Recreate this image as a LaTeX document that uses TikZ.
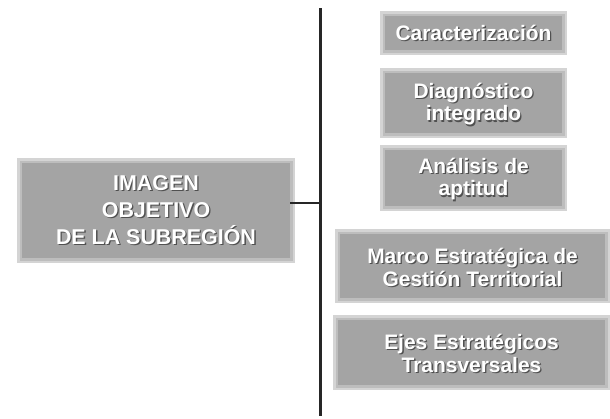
\documentclass[tikz,border=0pt]{standalone}
\usepackage{fontspec}
\setmainfont{Liberation Sans}
\usetikzlibrary{calc}
\definecolor{boxfill}{HTML}{A4A4A4}
\definecolor{boxglow}{HTML}{D4D4D4}
\definecolor{boxglowin}{HTML}{BDBDBD}
\definecolor{txtshadow}{HTML}{505050}
\newcommand{\shtext}[5]{% name, position, fontsize, baselineskip, text
  \node[txt, text=txtshadow, font=\bfseries\fontsize{#3}{#4}\selectfont] at ([xshift=1.3bp,yshift=-1.3bp]#2) {#5};
  \node[txt, text=white, font=\bfseries\fontsize{#3}{#4}\selectfont] (#1) at (#2) {#5};
}
\newcommand{\gbox}[4]{% x1,y1,x2,y2
  \fill[boxglow] ($(#1,#2)+(-5,-5)$) rectangle ($(#3,#4)+(5,5)$);
  \fill[boxglowin] ($(#1,#2)+(-2.5,-2.5)$) rectangle ($(#3,#4)+(2.5,2.5)$);
  \fill[boxfill] (#1,#2) rectangle (#3,#4);
}
\begin{document}
\begin{tikzpicture}[x=1bp,y=-1bp,
  txt/.style={align=center, inner sep=0pt},
  conn/.style={draw=black!85, line width=3bp}]
\useasboundingbox (0,0) rectangle (610,418);
\fill[white] (0,0) rectangle (610,418);
% left box
\gbox{22}{163}{290}{258}
\coordinate (lb) at (156,210);
\shtext{lt}{lb}{21.5}{27}{IMAGEN\\OBJETIVO\\DE LA SUBREGIÓN}
% right boxes
\gbox{385}{16}{562}{50}
\coordinate (c1) at (473.5,33);
\shtext{t1}{c1}{21}{23}{Caracterización}

\gbox{385}{73}{562}{133}
\coordinate (c2) at (473.5,104);
\shtext{t2}{c2}{21}{23}{Diagnóstico\\integrado}

\gbox{385}{150}{562}{206}
\coordinate (c3) at (473.5,179);
\shtext{t3}{c3}{21}{23}{Análisis de\\aptitud}

\gbox{340}{234}{605}{298}
\coordinate (c4) at (472.5,267);
\shtext{t4}{c4}{21}{23}{Marco Estratégica de\\Gestión Territorial}

\gbox{338}{320}{605}{385}
\coordinate (c5) at (471.5,353);
\shtext{t5}{c5}{21}{23}{Ejes Estratégicos\\Transversales}

% connectors
\coordinate (vt) at (320,8);
\coordinate (vb) at (320,416);
\coordinate (lr) at (290,203);
\coordinate (vm) at (320,203);
\draw[conn] (vt) -- (vb);
\draw[conn, line width=2bp] (lr) -- (vm);
\end{tikzpicture}
\end{document}
